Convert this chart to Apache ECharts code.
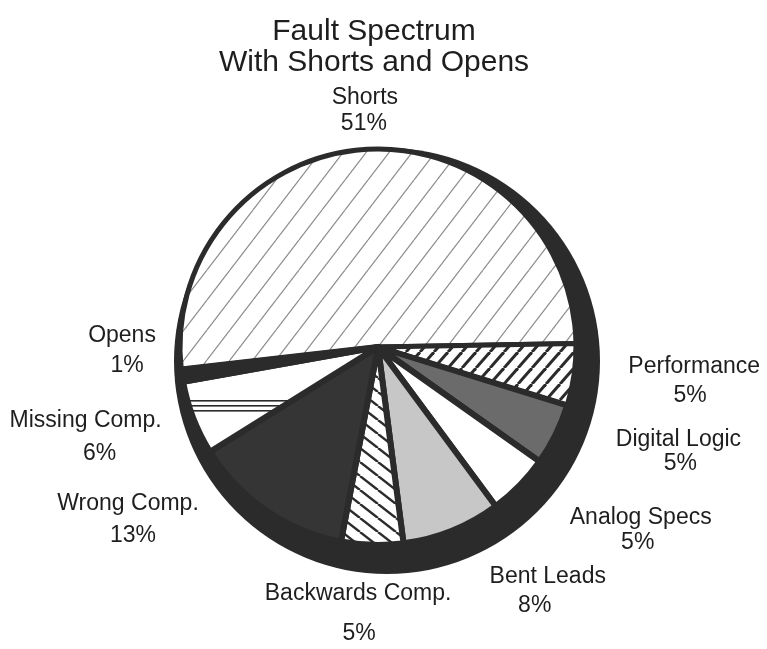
<!DOCTYPE html>
<html>
<head>
<meta charset="utf-8">
<script src="https://cdn.jsdelivr.net/npm/echarts@6/dist/echarts.min.js"></script>
<style>
  html, body { margin: 0; padding: 0; background: #fff; }
  #chart { width: 767px; height: 649px; }
</style>
</head>
<body>
<div id="chart"></div>
<script>
// Fault categories and their share of all faults (percent)
const categories = ['Shorts', 'Performance', 'Digital Logic', 'Analog Specs', 'Bent Leads',
                    'Backwards Comp.', 'Wrong Comp.', 'Missing Comp.', 'Opens'];
const shares = [51, 5, 5, 5, 8, 5, 13, 6, 1];

// Label placement around the pie: angular turn from the slice middle (deg) and distance from centre (px)
const labelTurn = [0.6, -1.9, -7.1, -9.6, -12.9, 2.6, 20.9, 3.9, 7.4];
const labelDist = [237, 318, 318, 320, 297, 267, 304, 306, 256];
// Line spacing of each two-line label, and sideways nudge of the percent line
const labelLineHeight = [26, 29, 24, 25, 29, 40, 32, 33, 30];
const pctShift = [-1, -4, 2, -3, -13, 1, 5, 14, 5];
// Outline weight of each slice
const edgeWidth = [5, 5, 6, 6, 6, 6, 6, 6, 6];

const PIE_CENTER = [378, 347];
const PIE_RADIUS = 198;
const START_ANGLE = 186.5;
const INK = '#2b2b2b';

// Hatch fills drawn on small repeating canvases
function hatch(w, h, color, lw, dir) {
  const c = document.createElement('canvas');
  c.width = w; c.height = h;
  const g = c.getContext('2d');
  g.fillStyle = '#ffffff';
  g.fillRect(0, 0, w, h);
  g.strokeStyle = color;
  g.lineWidth = lw;
  for (const k of [-1, 0, 1]) {
    g.beginPath();
    if (dir === '/') { g.moveTo(k * w, h); g.lineTo(k * w + w, 0); }
    else { g.moveTo(k * w, 0); g.lineTo(k * w + w, h); }
    g.stroke();
  }
  return { image: c, repeat: 'repeat' };
}
function rules(w, h, color, rows, lw) {
  const c = document.createElement('canvas');
  c.width = w; c.height = h;
  const g = c.getContext('2d');
  g.fillStyle = '#ffffff';
  g.fillRect(0, 0, w, h);
  g.fillStyle = color;
  rows.forEach(r => g.fillRect(0, r, w, lw));
  return { image: c, repeat: 'repeat' };
}

const fills = [
  hatch(23, 30, '#8c8c8c', 1.2, '/'),   // Shorts
  hatch(14, 16, INK, 3, '/'),           // Performance
  '#6b6b6b',                            // Digital Logic
  '#ffffff',                            // Analog Specs
  '#c7c7c7',                            // Bent Leads
  hatch(18, 14, INK, 2.4, '\\'),        // Backwards Comp.
  '#353535',                            // Wrong Comp.
  rules(8, 80, INK, [0, 5, 10], 1.6),   // Missing Comp.
  INK                                   // Opens
];

const total = shares.reduce((a, b) => a + b, 0);
function midScreenAngle(i) {
  let before = 0;
  for (let k = 0; k < i; k++) before += shares[k];
  const mid = (before + shares[i] / 2) / total * 360;
  return mid - START_ANGLE;
}

const FONT = 'Liberation Sans, Arial, sans-serif';
const data = categories.map((name, i) => ({
  name,
  value: shares[i],
  itemStyle: { color: fills[i], borderWidth: edgeWidth[i] },
  label: {
    rich: {
      n: { fontSize: 23, lineHeight: labelLineHeight[i], color: '#1e1e1e', fontFamily: FONT },
      p: { fontSize: 23, lineHeight: labelLineHeight[i], color: '#1e1e1e', fontFamily: FONT,
           padding: pctShift[i] >= 0 ? [0, 0, 0, 2 * pctShift[i]] : [0, -2 * pctShift[i], 0, 0] }
    }
  }
}));

const chart = echarts.init(document.getElementById('chart'), null, { renderer: 'canvas' });
chart.setOption({
  animation: false,
  backgroundColor: '#ffffff',
  title: {
    text: 'Fault Spectrum\nWith Shorts and Opens',
    left: 369,
    top: 11,
    textAlign: 'center',
    textStyle: {
      fontFamily: FONT,
      fontWeight: 'normal',
      fontSize: 30,
      lineHeight: 31,
      color: '#1e1e1e'
    }
  },
  series: [
    {
      // dark rim giving the disc its thickness
      type: 'pie',
      silent: true,
      center: [387, 361],
      radius: 213,
      label: { show: false },
      labelLine: { show: false },
      itemStyle: { color: INK },
      data: [{ name: 'rim', value: 1 }],
      z: 1
    },
    {
      type: 'pie',
      center: PIE_CENTER,
      radius: PIE_RADIUS,
      startAngle: START_ANGLE,
      clockwise: true,
      avoidLabelOverlap: false,
      itemStyle: { borderColor: INK, borderWidth: 5 },
      label: {
        show: true,
        position: 'outside',
        formatter: p => '{n|' + p.name + '}\n{p|' + p.value + '%}'
      },
      labelLine: { show: false },
      labelLayout: function (params) {
        const i = params.dataIndex;
        const a = (midScreenAngle(i) + labelTurn[i]) * Math.PI / 180;
        return {
          x: PIE_CENTER[0] + labelDist[i] * Math.cos(a),
          y: PIE_CENTER[1] + labelDist[i] * Math.sin(a),
          align: 'center',
          verticalAlign: 'middle'
        };
      },
      data,
      z: 2
    }
  ]
});
</script>
</body>
</html>
